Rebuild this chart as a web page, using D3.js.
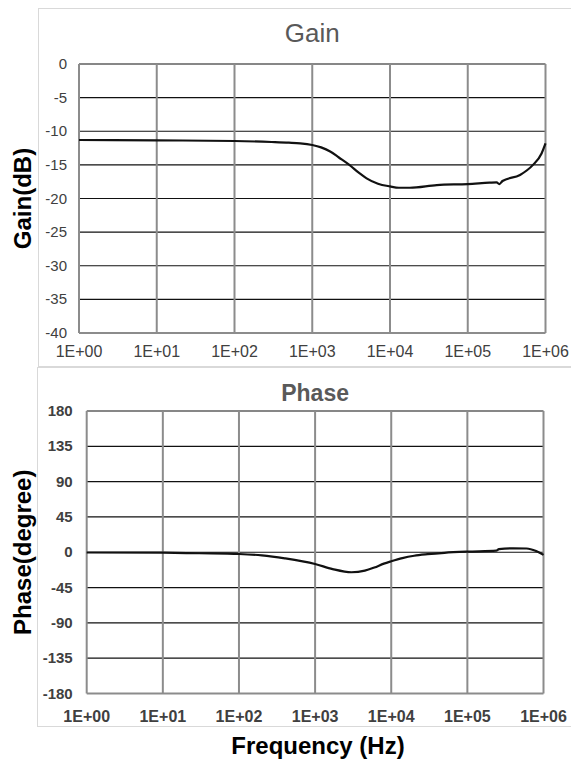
<!DOCTYPE html>
<html>
<head>
<meta charset="utf-8">
<script src="https://cdn.jsdelivr.net/npm/d3@7"></script>
<style>
  body { margin: 0; background: #fff; }
  svg { display: block; }
</style>
</head>
<body>
<div id="chart"></div>
<script>
// Frequency ticks (Hz) and labels
const decades = [1, 10, 100, 1000, 10000, 100000, 1000000];
const decadeLabels = ["1E+00", "1E+01", "1E+02", "1E+03", "1E+04", "1E+05", "1E+06"];

// Gain curve
const gainFreq = [1, 10, 100, 300, 500, 700, 1000, 1300, 1700, 2200, 3000, 4000, 5000, 7000, 10000,
  13000, 18000, 40000, 100000, 190000, 235000, 255000, 280000, 470000, 690000, 890000, 1000000];
const gainDb = [-11.3, -11.35, -11.45, -11.6, -11.7, -11.8, -12.05, -12.4, -13.0, -13.9, -15.0, -16.2, -17.0, -17.8, -18.2,
  -18.4, -18.4, -18.0, -17.85, -17.65, -17.6, -17.85, -17.4, -16.5, -15.0, -13.3, -11.8];
const gainTicks = [0, -5, -10, -15, -20, -25, -30, -35, -40];

// Phase curve
const phaseFreq = [1, 10, 30, 100, 200, 400, 1000, 1700, 3000, 4500, 6000, 8000, 10000,
  14000, 20000, 30000, 50000, 100000, 240000, 260000, 400000, 600000, 800000, 1000000];
const phaseDeg = [-0.3, -0.6, -1.3, -2.2, -4, -7.8, -15, -21.5, -25.5, -23.5, -19.5, -14.5, -11.5,
  -7.5, -4.5, -2.5, -0.7, 0.8, 2, 4, 5, 4.8, 1.5, -3.4];
const phaseTicks = [180, 135, 90, 45, 0, -45, -90, -135, -180];

const width = 571, height = 759;
const svg = d3.select("#chart").append("svg")
  .attr("width", width)
  .attr("height", height);

const narrow = "'Liberation Sans Narrow', 'Arial Narrow', 'Liberation Sans', Arial, sans-serif";
const sans = "'Liberation Sans', Arial, sans-serif";

// outer chart frames
svg.append("rect").attr("x", 38.5).attr("y", 8.5).attr("width", 600).attr("height", 358)
  .attr("fill", "none").attr("stroke", "#d9d9d9");
svg.append("rect").attr("x", 37.5).attr("y", 367.5).attr("width", 600).attr("height", 359)
  .attr("fill", "none").attr("stroke", "#d9d9d9");

function panel(opt) {
  const x = d3.scaleLog().domain([1, 1e6]).range([opt.left, opt.right]);
  const y = d3.scaleLinear().domain(opt.domain).range([opt.bottom, opt.top]);
  const g = svg.append("g");

  // horizontal gridlines
  g.selectAll("line.h").data(opt.ticks).enter().append("line")
    .attr("x1", opt.left).attr("x2", opt.right)
    .attr("y1", d => y(d)).attr("y2", d => y(d))
    .attr("stroke", d => d === opt.domain[0] ? "#8c8c8c" : "#111")
    .attr("stroke-width", d => d === opt.domain[0] ? 2 : 1.2);

  // vertical gridlines
  g.selectAll("line.v").data(decades).enter().append("line")
    .attr("x1", d => x(d)).attr("x2", d => x(d))
    .attr("y1", opt.top).attr("y2", opt.bottom)
    .attr("stroke", "#8c8c8c").attr("stroke-width", 2);

  // y tick labels
  g.selectAll("text.yt").data(opt.ticks).enter().append("text")
    .attr("x", opt.left - opt.ypad).attr("y", d => y(d) + 5)
    .attr("text-anchor", "end")
    .style("font-family", narrow).style("font-size", "15px")
    .style("font-weight", opt.bold ? "bold" : "normal")
    .attr("fill", "#404040")
    .text(d => d);

  // x tick labels
  g.selectAll("text.xt").data(decades).enter().append("text")
    .attr("x", d => x(d)).attr("y", opt.bottom + opt.xpad)
    .attr("text-anchor", "middle")
    .style("font-family", narrow).style("font-size", "16px")
    .style("font-weight", opt.bold ? "bold" : "normal")
    .attr("fill", "#404040")
    .text((d, i) => decadeLabels[i]);

  // curve
  const line = d3.line()
    .x(d => x(d[0]))
    .y(d => y(d[1]))
    .curve(d3.curveMonotoneX);
  g.append("path")
    .datum(opt.freq.map((f, i) => [f, opt.vals[i]]))
    .attr("d", line)
    .attr("fill", "none")
    .attr("stroke", "#111")
    .attr("stroke-width", 2.2);

  // title
  g.append("text")
    .attr("x", (opt.left + opt.right) / 2).attr("y", opt.titleY)
    .attr("text-anchor", "middle")
    .style("font-family", sans).style("font-size", opt.titleSize)
    .style("font-weight", opt.titleWeight)
    .attr("fill", "#595959")
    .text(opt.title);

  // y axis title
  g.append("text")
    .attr("transform", `translate(31,${(opt.top + opt.bottom) / 2}) rotate(-90)`)
    .attr("text-anchor", "middle")
    .style("font-family", sans).style("font-size", "24px")
    .style("font-weight", "bold")
    .attr("fill", "#000")
    .text(opt.ylabel);
}

panel({
  left: 79, right: 545.5, top: 64, bottom: 333,
  domain: [-40, 0], ticks: gainTicks,
  freq: gainFreq, vals: gainDb,
  ypad: 12, xpad: 24, bold: false,
  title: "Gain", titleY: 42, titleSize: "26px", titleWeight: "normal",
  ylabel: "Gain(dB)"
});

panel({
  left: 86.7, right: 543.5, top: 411, bottom: 693.5,
  domain: [-180, 180], ticks: phaseTicks,
  freq: phaseFreq, vals: phaseDeg,
  ypad: 14, xpad: 28, bold: true,
  title: "Phase", titleY: 401, titleSize: "23px", titleWeight: "bold",
  ylabel: "Phase(degree)"
});

// x axis title
svg.append("text")
  .attr("x", 318).attr("y", 754)
  .attr("text-anchor", "middle")
  .style("font-family", sans).style("font-size", "24px")
  .style("font-weight", "bold")
  .attr("fill", "#000")
  .text("Frequency (Hz)");
</script>
</body>
</html>
